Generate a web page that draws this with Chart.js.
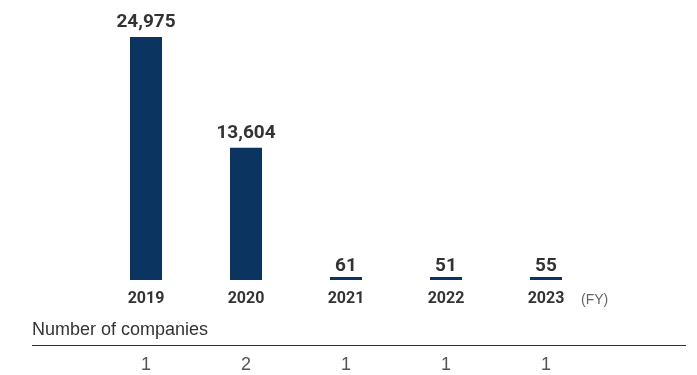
<!DOCTYPE html>
<html>
<head>
<meta charset="utf-8">
<script src="https://cdn.jsdelivr.net/npm/chart.js@4.4.1/dist/chart.umd.min.js"></script>
<style>
  body { margin: 0; background: #fff; }
  canvas { display: block; }
</style>
</head>
<body>
<canvas id="myCanvas" width="697" height="375"></canvas>
<script>
const years = ['2019', '2020', '2021', '2022', '2023'];
const amounts = [24975, 13604, 61, 51, 55];
const companies = [1, 2, 1, 1, 1];
const unitLabel = '(FY)';
const rowTitle = 'Number of companies';

const barColor = '#0b3461';
const textColor = '#333333';
const boldFont = "Roboto, 'Liberation Sans', sans-serif";

const labelsPlugin = {
  id: 'labels',
  afterDraw(chart) {
    const ctx = chart.ctx;
    const meta = chart.getDatasetMeta(0);
    const x = chart.scales.x;
    ctx.save();

    // values above bars (tiny bars get their label a bit closer)
    ctx.fillStyle = textColor;
    ctx.font = 'bold 19px ' + boldFont;
    ctx.textAlign = 'center';
    ctx.textBaseline = 'alphabetic';
    meta.data.forEach((bar, i) => {
      const gap = (bar.base - bar.y) < 6 ? 6 : 10;
      ctx.fillText(amounts[i].toLocaleString('en-US'), bar.x, bar.y - gap);
    });

    // (FY) after the last tick
    ctx.fillStyle = '#666666';
    ctx.font = '14px "Liberation Sans", Arial, sans-serif';
    ctx.textAlign = 'left';
    ctx.fillText(unitLabel, 581, 304);

    // companies row
    ctx.fillStyle = textColor;
    ctx.font = '18px "Liberation Sans", Arial, sans-serif';
    ctx.fillText(rowTitle, 32, 335);

    ctx.strokeStyle = '#333333';
    ctx.lineWidth = 1;
    ctx.beginPath();
    ctx.moveTo(32, 345.5);
    ctx.lineTo(686, 345.5);
    ctx.stroke();

    ctx.fillStyle = '#555555';
    ctx.font = '18px "Liberation Sans", Arial, sans-serif';
    ctx.textAlign = 'center';
    companies.forEach((c, i) => {
      ctx.fillText(String(c), x.getPixelForValue(i), 370);
    });
    ctx.restore();
  }
};

const ctx = document.getElementById('myCanvas').getContext('2d');
const myChart = new Chart(ctx, {
  type: 'bar',
  data: {
    labels: years,
    datasets: [{
      data: amounts,
      backgroundColor: barColor,
      barPercentage: 0.32,
      categoryPercentage: 1,
      minBarLength: 3
    }]
  },
  options: {
    responsive: false,
    animation: false,
    layout: { padding: { left: 96, right: 101, top: 10, bottom: 65 } },
    plugins: { legend: { display: false }, tooltip: { enabled: false } },
    scales: {
      y: { display: false, min: 0, max: 27750 },
      x: {
        grid: { display: false, drawTicks: false },
        border: { display: false },
        ticks: {
          color: textColor,
          font: { family: boldFont, size: 16, weight: 'bold' },
          padding: 9
        },
        afterFit(scale) { scale.height = 30; }
      }
    }
  },
  plugins: [labelsPlugin]
});
</script>
</body>
</html>
